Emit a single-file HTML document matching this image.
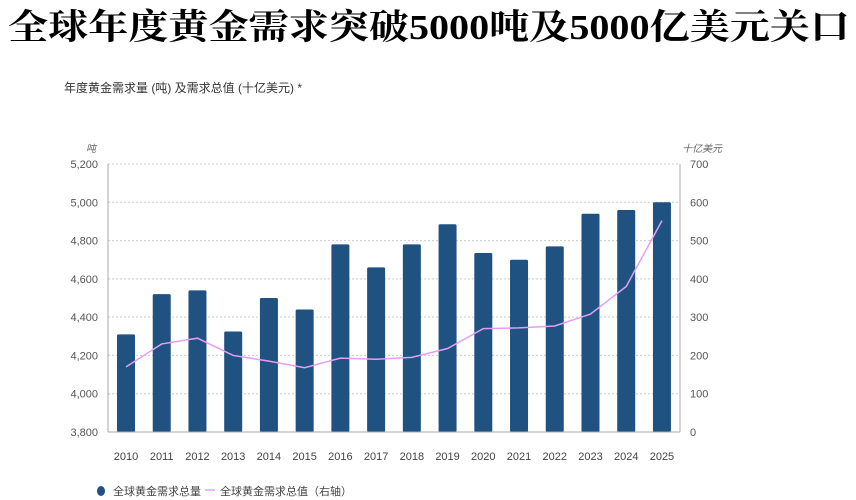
<!DOCTYPE html>
<html><head><meta charset="utf-8"><style>
body{margin:0;background:#fff;}
svg{display:block;font-family:"Liberation Sans","Noto Sans CJK SC",sans-serif;}
</style></head><body>
<svg id="c" width="856" height="500" xmlns="http://www.w3.org/2000/svg">
<text x="8" y="39" font-size="35" font-weight="bold" font-family="'Liberation Serif','Noto Serif CJK SC',serif" textLength="842" lengthAdjust="spacingAndGlyphs" fill="#000">全球年度黄金需求突破5000吨及5000亿美元关口</text>
<text x="64" y="92" font-size="12" fill="#333">年度黄金需求量 (吨) 及需求总值 (十亿美元) *</text>
<text x="86" y="152" font-size="10" font-style="italic" fill="#666">吨</text>
<text x="682" y="152" font-size="10" font-style="italic" fill="#666">十亿美元</text>
<g id="grid"></g><g id="bars"></g><g id="line"></g><g id="axes"></g>
<g>
<ellipse cx="101" cy="491" rx="4" ry="5" fill="#1f5280"/>
<text x="113" y="495" font-size="11" fill="#444">全球黄金需求总量</text>
<line x1="205" y1="490" x2="215" y2="490" stroke="#e39ff6" stroke-width="1.5"/>
<text x="220" y="495" font-size="11" fill="#444">全球黄金需求总值（右轴）</text>
</g>
</svg>
<script>
const years=["2010","2011","2012","2013","2014","2015","2016","2017","2018","2019","2020","2021","2022","2023","2024","2025"];
const tonnes=[4310,4520,4540,4325,4500,4440,4780,4660,4780,4885,4735,4700,4770,4940,4960,5000];
const valueBn=[170,230,245,200,185,168,193,190,195,218,270,272,277,308,380,552];
const leftTicks=[3800,4000,4200,4400,4600,4800,5000,5200];
const rightTicks=[0,100,200,300,400,500,600,700];
const NS="http://www.w3.org/2000/svg";
const L=108,R=680,T=164,B=432;
const yL=v=>B-(v-3800)/(5200-3800)*(B-T);
const yR=v=>B-v/700*(B-T);
const step=35.73, x0=126;
const xC=i=>x0+i*step;
function mk(t,a,p){const e=document.createElementNS(NS,t);for(const k in a)e.setAttribute(k,a[k]);document.getElementById(p).appendChild(e);return e;}
leftTicks.forEach((v,i)=>{
 if(i>0){const g=mk('line',{x1:L,x2:R,y1:yL(v),y2:yL(v),stroke:'#ccc','stroke-dasharray':'2,2'},'grid');
 
 }
 const t=mk('text',{x:L-10,y:yL(v)+4,'font-size':11,'text-anchor':'end',fill:'#555'},'axes');t.textContent=v.toLocaleString('en-US');
 
 
});
rightTicks.forEach(v=>{
 const t=mk('text',{x:R+10,y:yR(v)+4,'font-size':11,fill:'#555'},'axes');t.textContent=v;
 
 
});
[['line',{x1:L,x2:L,y1:T,y2:B}],['line',{x1:R,x2:R,y1:T,y2:B}],['line',{x1:L,x2:R,y1:B,y2:B}]].forEach(([t,a],i)=>{
 a.stroke='#aaa';const e=mk(t,a,'axes');
 
 
});
years.forEach((y,i)=>{
 const b=mk('rect',{x:xC(i)-9,y:yL(tonnes[i]),width:18,height:B-yL(tonnes[i]),fill:'#1f5280',rx:1.5},'bars');
 
 
 const t=mk('text',{x:xC(i),y:460,'font-size':11,'text-anchor':'middle',fill:'#444'},'axes');t.textContent=y;
 
 
});
const p=mk('polyline',{points:valueBn.map((v,i)=>xC(i)+','+yR(v)).join(' '),fill:'none',stroke:'#e39ff6','stroke-width':1.5},'line');


</script>
</body></html>
